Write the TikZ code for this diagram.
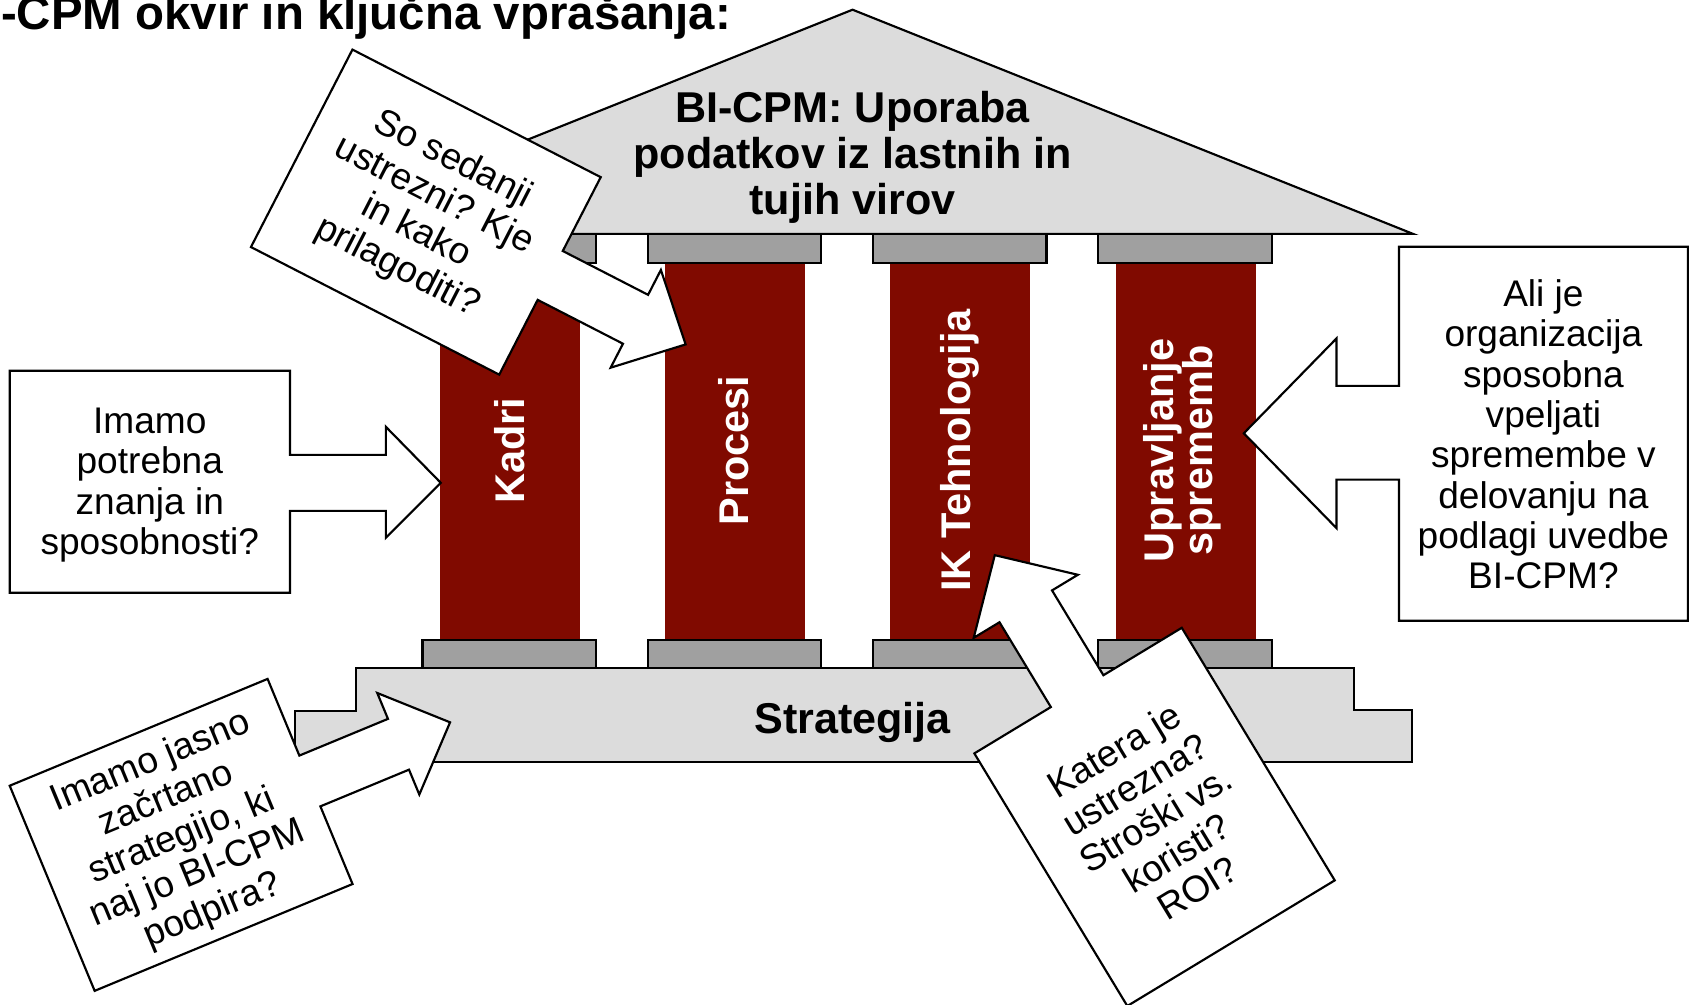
\documentclass[tikz,border=0pt]{standalone}
\usepackage{fontspec}
\setmainfont{Liberation Sans}
\definecolor{colred}{RGB}{128,10,0}
\definecolor{capgray}{RGB}{160,160,160}
\definecolor{roofgray}{RGB}{220,220,220}
\begin{document}
\begin{tikzpicture}[x=1pt,y=-1pt,line width=2pt,line join=miter,
  txt/.style={inner sep=0pt,align=center,font=\fontsize{34.4}{37.4}\selectfont},
  btxt/.style={inner sep=0pt,align=center,font=\fontsize{40}{42.5}\selectfont\bfseries},
  coltxt/.style={inner sep=0pt,align=center,text=white,rotate=90,font=\fontsize{38.5}{36}\selectfont\bfseries},
  shaftbox/.style={fill=colred,draw=none},
  capbox/.style={fill=capgray,draw=black},
  callbox/.style={fill=white,draw=black}]
\useasboundingbox (0,0) rectangle (1568,932);

% title
\node[anchor=base west,inner sep=0pt,font=\fontsize{44}{44}\selectfont\bfseries] (title) at (0,27) {-CPM okvir in ključna vprašanja:};

% roof
\filldraw[fill=roofgray] (271,217) -- (791,9) -- (1311,217) -- cycle;
\node[btxt] (roof) at (791,146) {BI-CPM: Uporaba\\podatkov iz lastnih in\\tujih virov};

% plinth
\filldraw[fill=roofgray] (330,620) -- (1256,620) -- (1256,659) -- (1310,659) -- (1310,707) -- (274,707) -- (274,660) -- (330,660) -- cycle;
\node[btxt] (plinth) at (791,670) {Strategija};

% columns
\foreach \sl/\cl in {408/392,617/601,826/810,1035/1019}{
  \fill[colred] (\sl,243) rectangle ++(130,351);
  \filldraw[capbox] (\cl,217) rectangle ++(161,27);
  \filldraw[capbox] (\cl,594) rectangle ++(161,26);
}
\node[coltxt] (c1) at (473,418) {Kadri};
\node[coltxt] (c2) at (681,418) {Procesi};
\node[coltxt] (c3) at (891,418) {IK Tehnologija};
\node[coltxt] (c4) at (1097,418) {Upravljanje\\sprememb};

% callout: Imamo potrebna (left)
\filldraw[callbox] (9,344) -- (269,344) -- (269,422) -- (358,422) -- (358,396) -- (409,448) -- (358,499) -- (358,474) -- (269,474) -- (269,550) -- (9,550) -- cycle;
\node[txt] (q1) at (139,450) {Imamo\\potrebna\\znanja in\\sposobnosti?};

% callout: Ali je (right)
\filldraw[callbox] (1298,229) -- (1566,229) -- (1566,576) -- (1298,576) -- (1298,445) -- (1240,445) -- (1240,490) -- (1154,402) -- (1240,314) -- (1240,358) -- (1298,358) -- cycle;
\node[txt] (q3) at (1432,403) {Ali je\\organizacija\\sposobna\\vpeljati\\spremembe v\\delovanju na\\podlagi uvedbe\\BI-CPM?};

% callout: So sedanji (top, rotated)
\begin{scope}[shift={(327,46)},rotate=-27.2]
  \filldraw[callbox] (0,0) -- (259,0) -- (259,77) -- (348,77) -- (348,51) -- (400,102) -- (348,153) -- (348,128) -- (259,128) -- (259,206) -- (0,206) -- cycle;
  \node[txt,transform shape] (q2) at (129.5,105) {So sedanji\\ustrezni? Kje\\in kako\\prilagoditi?};
\end{scope}

% callout: Imamo jasno (bottom left, rotated)
\begin{scope}[shift={(9,729)},rotate=22.5]
  \filldraw[callbox] (0,0) -- (259,0) -- (259,77) -- (348,77) -- (348,51) -- (400,102) -- (348,153) -- (348,128) -- (259,128) -- (259,206) -- (0,206) -- cycle;
  \node[txt,transform shape] (q4) at (129.5,105) {Imamo jasno\\začrtano\\strategijo, ki\\naj jo BI-CPM\\podpira?};
\end{scope}

% callout: Katera je (bottom right, rotated)
\begin{scope}[shift={(904,699)},rotate=31.2]
  \filldraw[callbox] (0,0) -- (83,0) -- (83,-92) -- (55,-92) -- (111.5,-147.5) -- (168,-92) -- (140,-92) -- (140,0) -- (225,0) -- (225,274) -- (0,274) -- cycle;
  \node[txt,transform shape] (q5) at (112.5,139) {Katera je\\ustrezna?\\Stroški vs.\\koristi?\\ROI?};
\end{scope}
\end{tikzpicture}
\end{document}
